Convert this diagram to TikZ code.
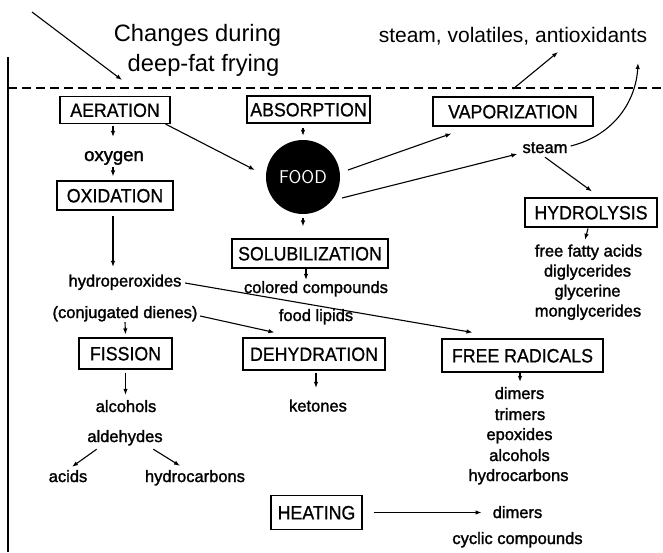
\documentclass[tikz,border=0pt]{standalone}
\usepackage{fontspec}
\setmainfont{Liberation Sans}
\newfontfamily\smallf[FakeBold=1.6]{Liberation Sans}
\newfontfamily\boxf[FakeStretch=0.92,FakeBold=0.8]{Liberation Sans}
\usetikzlibrary{arrows.meta}
\begin{document}
\begin{tikzpicture}[x=1pt,y=-1pt,
  lw/.style={line width=1.1pt},
  arr/.style={lw,-{Latex[length=6pt,width=4.5pt]}},
  box/.style={draw,lw,inner sep=0pt,font=\boxf\fontsize{19.3}{22}\selectfont,text height=13.8pt,text depth=0pt},
  lbl/.style={inner sep=0pt,font=\smallf\fontsize{16.5}{19}\selectfont,text height=12pt,text depth=4pt},
  ttl/.style={inner sep=0pt,font=\fontsize{23.7}{26}\selectfont,text height=17pt,text depth=0pt},
]
\useasboundingbox (0,0) rectangle (663,552);
% frame lines
\draw[lw] (8,57) -- (8,552);
\draw[lw,dash pattern=on 9pt off 5pt] (8,88) -- (663,88);
% title
\node[ttl] (t1) at (197.5,32.5) {Changes during};
\node[ttl] (t2) at (203.5,62.5) {deep-fat frying};
\coordinate (ta) at (32,12);
\coordinate (tb) at (122,80);
\draw[arr] (ta) -- (tb);
\node[inner sep=0pt,font=\fontsize{21}{24}\selectfont,text height=15pt,text depth=4pt] (sva) at (513,37) {steam, volatiles, antioxidants};
\coordinate (dv) at (513,89);
\coordinate (svb) at (558,52);
\coordinate (stop) at (638,63);
\draw[arr] (dv) -- (svb);
% boxes
\node[box,minimum width=110pt,minimum height=27pt] (aer) at (115,110) {AERATION};
\node[box,minimum width=123pt,minimum height=27pt] (abs) at (308.5,109.5) {ABSORPTION};
\node[box,minimum width=160pt,minimum height=29pt] (vap) at (513,111.5) {VAPORIZATION};
\node[circle,fill=black,minimum size=74pt,inner sep=0pt,text=white,font=\sffamily\fontsize{18.5}{20}\selectfont] (food) at (303,177) {FOOD};
\node[box,minimum width=156pt,minimum height=29pt] (sol) at (310,253.5) {SOLUBILIZATION};
\node[box,minimum width=132pt,minimum height=29pt] (hyd) at (591,212.5) {HYDROLYSIS};
\node[box,minimum width=116pt,minimum height=29pt] (oxd) at (115,195.5) {OXIDATION};
\node[box,minimum width=93pt,minimum height=31pt] (fis) at (125.5,353.5) {FISSION};
\node[box,minimum width=142pt,minimum height=32pt] (deh) at (314,354) {DEHYDRATION};
\node[box,minimum width=161pt,minimum height=33pt] (frad) at (522.5,355.5) {FREE RADICALS};
\node[box,minimum width=91pt,minimum height=34pt] (heat) at (316.5,512.5) {HEATING};
% labels
\node[lbl,font=\smallf\fontsize{18.5}{21}\selectfont,text height=13pt,text depth=5pt] (oxy) at (114,157) {oxygen};
\node[lbl] (hpx) at (125,282.5) {hydroperoxides};
\node[lbl] (conj) at (125,314) {(conjugated dienes)};
\node[lbl] (col) at (316,289) {colored compounds};
\node[lbl] (flip) at (316,317) {food lipids};
\node[lbl] (stm) at (545,149) {steam};
\node[lbl] (ffa) at (588.5,252.5) {free fatty acids};
\node[lbl] (dig) at (587.5,272.5) {diglycerides};
\node[lbl] (gly) at (587.5,292.5) {glycerine};
\node[lbl] (mon) at (588,312.5) {monglycerides};
\node[lbl] (alc) at (126,408) {alcohols};
\node[lbl] (ald) at (125,438) {aldehydes};
\node[lbl] (acd) at (68,478) {acids};
\node[lbl] (hc) at (195,478) {hydrocarbons};
\node[lbl] (ket) at (318,407.5) {ketones};
\node[lbl] (dim) at (519.5,395) {dimers};
\node[lbl] (tri) at (520,416) {trimers};
\node[lbl] (epo) at (519.5,436) {epoxides};
\node[lbl] (alc2) at (519.5,457) {alcohols};
\node[lbl] (hc2) at (518.5,477) {hydrocarbons};
\node[lbl] (dim2) at (517.5,514) {dimers};
\node[lbl] (cyc) at (517.5,540) {cyclic compounds};
% connectors
\draw[arr] ([shift={(-5,0)}]aer.south east) -- ([shift={(-11,-7)}]food.west);
\draw[arr,shorten <=4pt,shorten >=4pt] (food.north |- abs.south) -- (food.north);
\draw[arr,shorten <=4pt,shorten >=12pt] (food.south) -- (food.south |- sol.north);
\draw[arr] ([shift={(-4,0)}]sol.south) -- ([shift={(-10,-1)}]col.north);
\draw[arr] ([shift={(45,-7)}]food.center) -- ([shift={(19,7)}]vap.south west);
\draw[arr] ([shift={(39,21)}]food.center) -- ([shift={(-5,5)}]stm.west);
\draw[arr] ([shift={(3,-3)}]stm.east) .. controls (615,135) and (636,100) .. (stop);
\draw[arr] (stm.south) -- ([shift={(1,-6)}]hyd.north);
\draw[arr] ([shift={(-3,1)}]hyd.south) -- ([shift={(-3.5,-4.5)}]ffa.north);
\draw[arr] ([shift={(-2,2)}]aer.south) -- ([shift={(-1,-11)}]oxy.north);
\draw[arr] ([shift={(-1,1)}]oxy.south) -- ([shift={(-2,-4)}]oxd.north);
\draw[arr] ([shift={(-2,5)}]oxd.south) -- ([shift={(-12,-7.5)}]hpx.north);
\draw[arr] ([shift={(3.5,0.5)}]hpx.east) -- ([shift={(31,-6)}]frad.north west);
\draw[arr] ([shift={(2.5,2)}]conj.east) -- ([shift={(32,-5)}]deh.north west);
\draw[arr] (conj.south) -- ([shift={(0,-3)}]fis.north);
\draw[arr,shorten <=3pt,shorten >=5pt] (fis.south) -- (fis.south |- alc.north);
\draw[arr] ([shift={(9.5,3)}]ald.south west) -- ([shift={(4,-3)}]acd.north);
\draw[arr] ([shift={(-9.5,3)}]ald.south east) -- ([shift={(-15,-4)}]hc.north);
\draw[arr] ([shift={(2,2)}]deh.south) -- ([shift={(-2,-11.5)}]ket.north);
\draw[arr] ([shift={(-2.5,0)}]frad.south) -- ([shift={(0.5,-5)}]dim.north);
\draw[arr] ([shift={(11,0)}]heat.east) -- ([shift={(-11,-1.5)}]dim2.west);
\end{tikzpicture}
\end{document}
